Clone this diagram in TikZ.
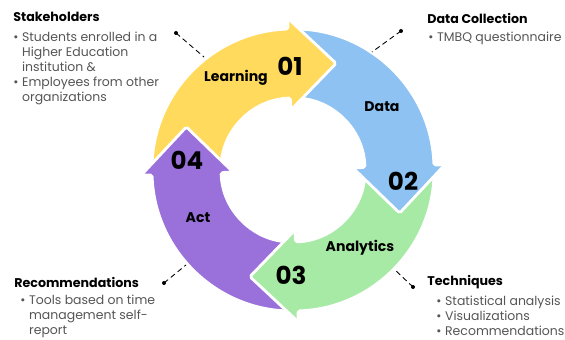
\documentclass[tikz,border=0pt]{standalone}
\usepackage{fontspec}
\setmainfont{Poppins}
\usepackage{tikz}

\definecolor{learnyellow}{HTML}{FFDA5C}
\definecolor{datablue}{HTML}{8DC2F2}
\definecolor{analyticsgreen}{HTML}{A7EAA5}
\definecolor{actpurple}{HTML}{9A70DB}
\definecolor{listgray}{HTML}{555555}

\newcommand{\bul}{\makebox[5pt][l]{\textbullet}}
\newcommand{\ind}{\hspace*{5pt}}

\tikzset{
	ringarrow/.style={draw=white, line width=1.6pt, rounded corners=1pt, line join=round},
	steplabel/.style={font=\bfseries\fontsize{8}{9}\selectfont},
	stepnum/.style={font=\bfseries\fontsize{14}{16}\selectfont},
	headline/.style={font=\bfseries\fontsize{7.2}{9}\selectfont, anchor=west, inner sep=0},
	itemlist/.style={font=\fontsize{7.1}{8.5}\selectfont, text=listgray, align=left, anchor=north west, inner sep=0},
	leader/.style={densely dashed, line width=0.5pt}
}

\begin{document}
\begin{tikzpicture}[x=0.02cm, y=0.02cm]
\useasboundingbox (0,0) rectangle (565,340);

%cycle
\begin{scope}[shift={(293,170)}]
\foreach \a/\col in {0/learnyellow, -270/actpurple, -180/analyticsgreen, -90/datablue}
{
	\filldraw[ringarrow, fill=\col] ({180+\a}:141) arc[start angle=180+\a, end angle=92+\a, radius=141]
		-- ({92+\a}:152) -- ({68+\a}:115) -- ({92+\a}:60) -- ({92+\a}:72)
		arc[start angle=92+\a, end angle=180+\a, radius=72] -- cycle;
}
%yellow head again, over the blue tail
\begin{scope}
	\clip (0,0) -- (96:180) arc[start angle=96, end angle=50, radius=180] -- cycle;
	\filldraw[ringarrow, fill=learnyellow] (180:141) arc[start angle=180, end angle=92, radius=141]
		-- (92:152) -- (68:115) -- (92:60) -- (92:72)
		arc[start angle=92, end angle=180, radius=72] -- cycle;
\end{scope}
\end{scope}

%labels on the arrows
\node[stepnum] (n01) at (290,274) {01};
\node[steplabel] (learning) at (236,262) {Learning};
\node[steplabel] (data) at (382,233) {Data};
\node[stepnum] (n02) at (403,159) {02};
\node[steplabel] (analytics) at (360,92) {Analytics};
\node[stepnum] (n03) at (291,65) {03};
\node[steplabel] (act) at (198,122) {Act};
\node[stepnum] (n04) at (187,180) {04};

%side notes
\node[headline] (stake) at (13,323) {Stakeholders};
\node[itemlist] (stakelist) at (13,308) {\bul Students enrolled in a\\ \ind Higher Education\\ \ind institution \&\\ \bul Employees from other\\ \ind organizations};

\node[headline] (datacol) at (427,322) {Data Collection};
\node[itemlist] (datalist) at (428,308) {\bul TMBQ questionnaire};

\node[headline] (recom) at (14,58) {Recommendations};
\node[itemlist] (recomlist) at (20,45) {\bul Tools based on time\\ \ind management self-\\ \ind report};

\node[headline] (tech) at (427,58) {Techniques};
\node[itemlist] (techlist) at (436,44) {\bul Statistical analysis\\ \bul Visualizations\\ \bul Recommendations};

%leaders
\coordinate (stakedot) at (176,307);
\coordinate (stakeend) at (204,283);
\coordinate (datadot) at (401,309);
\coordinate (dataend) at (372,288);
\coordinate (recomdot) at (164,57);
\coordinate (recomend) at (186,75);
\coordinate (techdot) at (413,53);
\coordinate (techend) at (394,71);
\foreach \p in {stake, data, recom, tech}
{
	\draw[leader] (\p dot) -- (\p end);
	\fill (\p dot) circle (2);
}

\end{tikzpicture}
\end{document}
